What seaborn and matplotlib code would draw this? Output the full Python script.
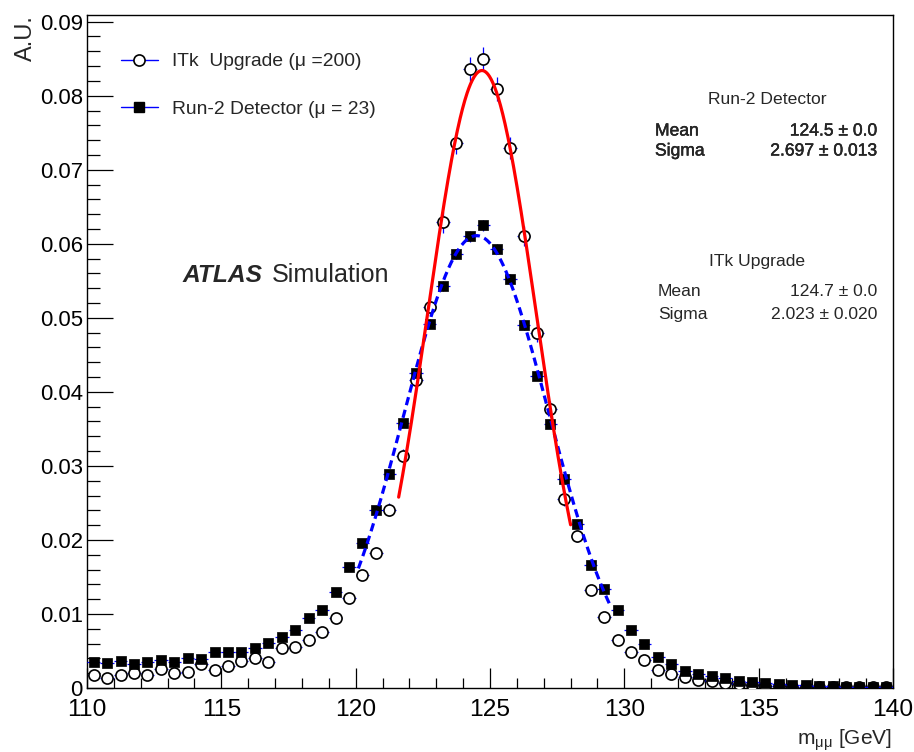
import numpy as np
import pandas as pd
import seaborn as sns
import matplotlib
matplotlib.use("Agg")
import matplotlib.pyplot as plt
from matplotlib import font_manager
from matplotlib.lines import Line2D
from matplotlib.ticker import MultipleLocator, FuncFormatter
import matplotlib.patheffects as pe

# ---------------------------------------------------------------- data
# di-muon invariant mass histogram, 0.5 GeV bins from 110 to 140 GeV
bin_lo, bin_hi, bin_width = 110.0, 140.0, 0.5
bin_centers = np.arange(bin_lo + bin_width / 2, bin_hi, bin_width)

# Run-2 detector (mu = 23), normalised entries per bin
run2_values = [
    0.0035, 0.0034, 0.0036, 0.0032, 0.0035, 0.0038, 0.0035, 0.0041, 0.0039, 0.0049,
    0.0049, 0.0049, 0.0054, 0.0061, 0.0069, 0.0078, 0.0094, 0.0105, 0.0130, 0.0164,
    0.0196, 0.0241, 0.0289, 0.0358, 0.0425, 0.0492, 0.0543, 0.0586, 0.0610, 0.0625,
    0.0593, 0.0552, 0.0490, 0.0422, 0.0356, 0.0282, 0.0222, 0.0166, 0.0134, 0.0105,
    0.0078, 0.0060, 0.0042, 0.0032, 0.0023, 0.0019, 0.0016, 0.0013, 0.0010, 0.00085,
    0.0007, 0.00055, 0.00045, 0.0004, 0.00032, 0.00025, 0.0002, 0.0002, 0.00015, 0.00015,
]
run2_errors = [
    0.00017, 0.00017, 0.00017, 0.00016, 0.00017, 0.00018, 0.00017, 0.00019, 0.00018, 0.00020,
    0.00020, 0.00020, 0.00021, 0.00023, 0.00024, 0.00026, 0.00028, 0.00030, 0.00033, 0.00037,
    0.00041, 0.00045, 0.00049, 0.00055, 0.00060, 0.00064, 0.00068, 0.00070, 0.00072, 0.00073,
    0.00071, 0.00068, 0.00064, 0.00060, 0.00055, 0.00049, 0.00043, 0.00037, 0.00034, 0.00030,
    0.00026, 0.00022, 0.00019, 0.00016, 0.00014, 0.00013, 0.00011, 0.00010, 0.00009, 0.00008,
    0.00008, 0.00007, 0.00006, 0.00006, 0.00005, 0.00005, 0.00004, 0.00004, 0.00004, 0.00004,
]

# ITk upgrade (mu = 200), normalised entries per bin
itk_values = [
    0.0017, 0.0013, 0.0018, 0.0020, 0.0017, 0.0025, 0.0020, 0.0022, 0.0032, 0.0024,
    0.0030, 0.0037, 0.0040, 0.0035, 0.0054, 0.0055, 0.0065, 0.0075, 0.0094, 0.0121,
    0.0152, 0.0183, 0.0241, 0.0313, 0.0416, 0.0515, 0.0629, 0.0736, 0.0836, 0.0850,
    0.0809, 0.0729, 0.0610, 0.0480, 0.0377, 0.0255, 0.0205, 0.0132, 0.0096, 0.0065,
    0.0049, 0.0038, 0.0024, 0.0019, 0.0015, 0.0011, 0.0009, 0.0007, 0.0005, 0.0004,
    0.0003, 0.00025, 0.0002, 0.0002, 0.00015, 0.00015, 0.0001, 0.0001, 0.0001, 0.0001,
]
itk_errors = [
    0.00023, 0.00020, 0.00023, 0.00025, 0.00023, 0.00028, 0.00025, 0.00026, 0.00031, 0.00027,
    0.00030, 0.00033, 0.00035, 0.00033, 0.00040, 0.00041, 0.00044, 0.00048, 0.00053, 0.00060,
    0.00068, 0.00074, 0.00085, 0.00097, 0.00112, 0.00125, 0.00138, 0.00149, 0.00159, 0.00160,
    0.00156, 0.00149, 0.00136, 0.00120, 0.00107, 0.00088, 0.00079, 0.00063, 0.00054, 0.00044,
    0.00039, 0.00034, 0.00027, 0.00024, 0.00021, 0.00018, 0.00017, 0.00015, 0.00012, 0.00011,
    0.00010, 0.00009, 0.00008, 0.00008, 0.00007, 0.00007, 0.00006, 0.00006, 0.00006, 0.00006,
]

# Gaussian fit results: mean, sigma, normalisation, fit range
run2_fit = {"mean": 124.5, "mean_err": 0.0, "sigma": 2.697, "sigma_err": 0.013,
            "norm": 0.0611, "range": (120.1, 129.5)}
itk_fit = {"mean": 124.7, "mean_err": 0.0, "sigma": 2.023, "sigma_err": 0.020,
           "norm": 0.0834, "range": (121.6, 128.0)}

legend_labels = ["ITk  Upgrade (\u03bc =200)", "Run-2 Detector (\u03bc = 23)"]
x_ticks = [110, 115, 120, 125, 130, 135, 140]
y_ticks = [0, 0.01, 0.02, 0.03, 0.04, 0.05, 0.06, 0.07, 0.08, 0.09]

# ---------------------------------------------------------------- style
sns.set_theme(style="ticks")
available = {f.name for f in font_manager.fontManager.ttflist}
NARROW = "Liberation Sans Narrow" in available
FAMILY = "Liberation Sans Narrow" if NARROW else "Liberation Sans"
K = 1.0 if NARROW else 0.84
plt.rcParams["font.family"] = [FAMILY, "DejaVu Sans"]
plt.rcParams["mathtext.fontset"] = "custom"
plt.rcParams["mathtext.rm"] = FAMILY
plt.rcParams["mathtext.it"] = FAMILY + ":italic"

W, H = 914, 752
fig = plt.figure(figsize=(W / 100, H / 100), dpi=100)
fig.patch.set_facecolor("white")


def fx(px):
    return px / W


def fy(py):
    return 1 - py / H


ax = fig.add_axes([fx(87), fy(688), fx(893) - fx(87), fy(15) - fy(688)])
ax.set_facecolor("white")

df = pd.DataFrame({
    "m": np.concatenate([bin_centers, bin_centers]),
    "value": np.concatenate([itk_values, run2_values]),
    "err": np.concatenate([itk_errors, run2_errors]),
    "sample": ["ITk"] * len(bin_centers) + ["Run2"] * len(bin_centers),
})
itk = df[df["sample"] == "ITk"]
run2 = df[df["sample"] == "Run2"]

err_kw = dict(fmt="none", ecolor="blue", elinewidth=0.9, capsize=0)

# ITk: open circles with bin-width horizontal bars
ax.errorbar(itk["m"], itk["value"], xerr=bin_width / 2, yerr=itk["err"], zorder=2, **err_kw)
sns.scatterplot(data=itk, x="m", y="value", marker="o", s=64, facecolor="white",
                edgecolor="black", linewidth=1.2, ax=ax, zorder=3, legend=False)

# Run-2: filled squares
ax.errorbar(run2["m"], run2["value"], xerr=bin_width / 2, yerr=run2["err"], zorder=4, **err_kw)
sns.scatterplot(data=run2, x="m", y="value", marker="s", s=52, color="black",
                edgecolor="black", linewidth=0.5, ax=ax, zorder=5, legend=False)


def gauss(x, p):
    return p["norm"] * np.exp(-0.5 * ((x - p["mean"]) / p["sigma"]) ** 2)


xr = np.linspace(*run2_fit["range"], 300)
sns.lineplot(x=xr, y=gauss(xr, run2_fit), color="blue", linewidth=2.3,
             linestyle=(0, (2.6, 1.5)), ax=ax, zorder=6)
xi = np.linspace(*itk_fit["range"], 300)
sns.lineplot(x=xi, y=gauss(xi, itk_fit), color="red", linewidth=2.3, ax=ax, zorder=7)

# ---------------------------------------------------------------- axes
ax.set_xlim(bin_lo, bin_hi)
ax.set_ylim(0, 0.0909)
ax.set_xticks(x_ticks)
ax.set_yticks(y_ticks)
ax.xaxis.set_minor_locator(MultipleLocator(1))
ax.yaxis.set_minor_locator(MultipleLocator(0.002))
ax.yaxis.set_major_formatter(FuncFormatter(lambda v, _: "0" if abs(v) < 1e-9 else f"{v:.2f}"))
ax.xaxis.set_major_formatter(FuncFormatter(lambda v, _: f"{v:.0f}"))
ax.set_xlabel("")
ax.set_ylabel("")
for s in ax.spines.values():
    s.set_visible(True)
    s.set_linewidth(1.0)
    s.set_color("black")
ax.tick_params(axis="both", which="both", direction="in", top=False, right=False,
               colors="black", width=0.9)
ax.tick_params(axis="y", which="major", length=18.5, pad=3, labelsize=19 * K)
ax.tick_params(axis="y", which="minor", length=9.5)
ax.tick_params(axis="x", which="major", length=14.5, pad=8, labelsize=21 * K)
ax.tick_params(axis="x", which="minor", length=7.2)

fig.text(fx(26), fy(15), "A.U.", rotation=90, ha="center", va="top",
         fontsize=17, family=["Liberation Sans", "DejaVu Sans"])
fig.text(fx(892), fy(745), "m$_{\\mathrm{\u03bc\u03bc}}$ [GeV]", ha="right", va="baseline",
         fontsize=18 * K)

# ---------------------------------------------------------------- legend
handles = [
    Line2D([], [], color="blue", lw=1.0, marker="o", markersize=8,
           markerfacecolor="white", markeredgecolor="black", markeredgewidth=1.2),
    Line2D([], [], color="blue", lw=1.0, marker="s", markersize=7.2,
           markerfacecolor="black", markeredgecolor="black"),
]
ax.legend(handles, legend_labels, loc="upper left", bbox_to_anchor=(fx(121), fy(53)),
          bbox_transform=fig.transFigure, frameon=False, fontsize=16.5 * K,
          handlelength=1.9, handletextpad=0.75, labelspacing=1.55,
          borderpad=0, borderaxespad=0)

# ---------------------------------------------------------------- ATLAS label
atlas = fig.text(fx(183), fy(275), "ATLAS", ha="left", va="center", fontsize=21 * K,
                 fontweight="bold", fontstyle="italic")
fig.canvas.draw()
bb = atlas.get_window_extent()
fig.text((bb.x1 + 9) / W, fy(275), "Simulation", ha="left", va="center", fontsize=21.5 * K)

# ---------------------------------------------------------------- fit results
stat_fs = 15 * K
heavy = [pe.withStroke(linewidth=0.3, foreground="black")]


def fit_block(title, p, y_title, y_mean, y_sigma, x_title, x_left, effects=None):
    fig.text(fx(x_title), fy(y_title), title, ha="center", va="center", fontsize=stat_fs)
    rows = [("Mean", f"{p['mean']:.1f} \u00b1 {p['mean_err']:.1f}", y_mean),
            ("Sigma", f"{p['sigma']:.3f} \u00b1 {p['sigma_err']:.3f}", y_sigma)]
    for name, val, yy in rows:
        fig.text(fx(x_left), fy(yy), name, ha="left", va="center", fontsize=stat_fs,
                 path_effects=effects)
        fig.text(fx(877), fy(yy), val, ha="right", va="center", fontsize=stat_fs,
                 path_effects=effects)


fit_block("Run-2 Detector", run2_fit, 99, 131, 151, 767, 655, heavy)
fit_block("ITk Upgrade", itk_fit, 262, 292, 314, 757, 658)

fig.savefig("out.png", dpi=100, facecolor="white")
